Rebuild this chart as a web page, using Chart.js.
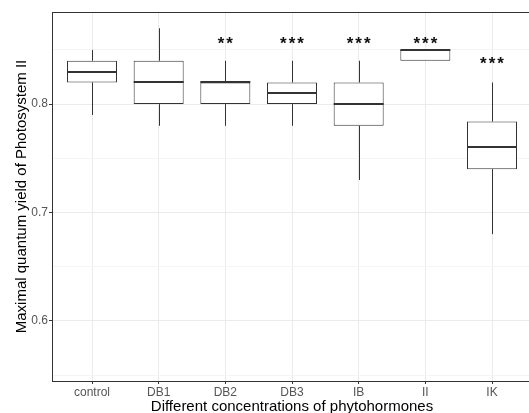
<!DOCTYPE html>
<html>
<head>
<meta charset="utf-8">
<script src="https://cdn.jsdelivr.net/npm/chart.js@4.4.0/dist/chart.umd.min.js"></script>
<style>
  html, body { margin: 0; padding: 0; background: #fff; overflow: hidden; }
  #wrap { width: 533px; height: 413px; }
</style>
</head>
<body>
<div id="wrap"><canvas id="c"></canvas></div>
<script>
// box plot summaries
const groups = ['control', 'DB1', 'DB2', 'DB3', 'IB', 'II', 'IK'];
const whiskerLow = [0.79, 0.78, 0.78, 0.78, 0.73, 0.84, 0.68];
const lowerQuartile = [0.82, 0.80, 0.80, 0.80, 0.78, 0.84, 0.74];
const medians = [0.83, 0.82, 0.82, 0.81, 0.80, 0.85, 0.76];
const upperQuartile = [0.84, 0.84, 0.82, 0.82, 0.82, 0.85, 0.784];
const whiskerHigh = [0.85, 0.87, 0.84, 0.84, 0.84, 0.85, 0.82];
// significance marks
const stars = ['', '', '**', '***', '***', '***', '***'];
const starLevel = [null, null, 0.855, 0.855, 0.855, 0.855, 0.837];
// y grid / ticks
const yTicks = [0.55, 0.6, 0.65, 0.7, 0.75, 0.8, 0.85];
const yLabelled = [0.6, 0.7, 0.8];

const FONT = "'Liberation Sans', Arial, sans-serif";
const LINE = '#333333';
const isMajor = v => yLabelled.includes(+(+v).toFixed(2));

function strokeLine(ctx, x1, y1, x2, y2) {
    ctx.beginPath();
    ctx.moveTo(x1, y1);
    ctx.lineTo(x2, y2);
    ctx.stroke();
}

// whiskers go under the boxes, medians, stars and panel border on top
const boxPlotExtras = {
    id: 'boxPlotExtras',
    beforeDatasetsDraw(chart) {
        const { ctx, scales: { x, y } } = chart;
        ctx.save();
        ctx.strokeStyle = LINE;
        ctx.lineWidth = 1;
        groups.forEach((g, i) => {
            const cx = Math.round(x.getPixelForValue(i + 1)) + 0.5;
            strokeLine(ctx, cx, y.getPixelForValue(upperQuartile[i]), cx, y.getPixelForValue(whiskerHigh[i]));
            strokeLine(ctx, cx, y.getPixelForValue(lowerQuartile[i]), cx, y.getPixelForValue(whiskerLow[i]));
        });
        ctx.restore();
    },
    afterDatasetsDraw(chart) {
        const { ctx, scales: { x, y } } = chart;
        const meta = chart.getDatasetMeta(0);
        ctx.save();
        ctx.strokeStyle = LINE;
        ctx.lineWidth = 2;
        groups.forEach((g, i) => {
            const bar = meta.data[i];
            const ym = Math.round(y.getPixelForValue(medians[i]));
            strokeLine(ctx, bar.x - bar.width / 2, ym, bar.x + bar.width / 2, ym);
        });
        ctx.fillStyle = '#111';
        ctx.font = 'bold 17px ' + FONT;
        ctx.letterSpacing = '2px';
        ctx.textAlign = 'center';
        ctx.textBaseline = 'middle';
        groups.forEach((g, i) => {
            if (!stars[i]) return;
            ctx.fillText(stars[i], x.getPixelForValue(i + 1) + 1, y.getPixelForValue(starLevel[i]));
        });
        ctx.restore();
    },
    afterDraw(chart) {
        const { ctx, chartArea: a } = chart;
        ctx.save();
        ctx.strokeStyle = LINE;
        ctx.lineWidth = 1;
        ctx.strokeRect(Math.round(a.left) + 0.5, Math.round(a.top) + 0.5, Math.round(a.right - a.left), Math.round(a.bottom - a.top));
        ctx.restore();
    }
};

new Chart(document.getElementById('c'), {
    type: 'bar',
    data: {
        datasets: [{
            data: groups.map((g, i) => ({ x: i + 1, y: [lowerQuartile[i], upperQuartile[i]] })),
            backgroundColor: '#ffffff',
            borderColor: LINE,
            borderWidth: 1,
            borderSkipped: false,
            barPercentage: 0.75,
            categoryPercentage: 1
        }]
    },
    options: {
        responsive: true,
        maintainAspectRatio: false,
        animation: false,
        layout: { padding: { top: 12, right: 1, bottom: 0, left: 0 } },
        plugins: {
            legend: { display: false },
            tooltip: { enabled: false }
        },
        scales: {
            x: {
                type: 'linear',
                min: 0.4,
                max: 7.6,
                offset: false,
                afterBuildTicks: s => { s.ticks = groups.map((g, i) => ({ value: i + 1 })); },
                afterFit: s => { s.height = 32; },
                ticks: {
                    callback: v => groups[Math.round(v) - 1],
                    color: '#555',
                    font: { family: FONT, size: 12 },
                    padding: 1,
                    autoSkip: false,
                    maxRotation: 0
                },
                grid: { color: '#ebebeb', tickColor: LINE, tickLength: 3, offset: false },
                border: { display: false },
                title: {
                    display: true,
                    text: 'Different concentrations of phytohormones',
                    color: '#000',
                    font: { family: FONT, size: 15 },
                    padding: { top: 0, bottom: -3 }
                }
            },
            y: {
                min: 0.5445,
                max: 0.885,
                afterBuildTicks: s => { s.ticks = yTicks.map(v => ({ value: v })); },
                afterFit: s => { s.width = 52; },
                ticks: {
                    callback: v => isMajor(v) ? (+v).toFixed(1) : '',
                    color: '#555',
                    font: { family: FONT, size: 12 },
                    padding: 1
                },
                grid: {
                    color: c => isMajor(c.tick.value) ? '#ebebeb' : '#f4f4f4',
                    tickColor: c => isMajor(c.tick.value) ? LINE : 'rgba(0,0,0,0)',
                    tickLength: 3
                },
                border: { display: false },
                title: {
                    display: true,
                    text: 'Maximal quantum yield of Photosystem II',
                    color: '#000',
                    font: { family: FONT, size: 15 },
                    padding: { top: 13, bottom: 0 }
                }
            }
        }
    },
    plugins: [boxPlotExtras]
});
</script>
</body>
</html>
